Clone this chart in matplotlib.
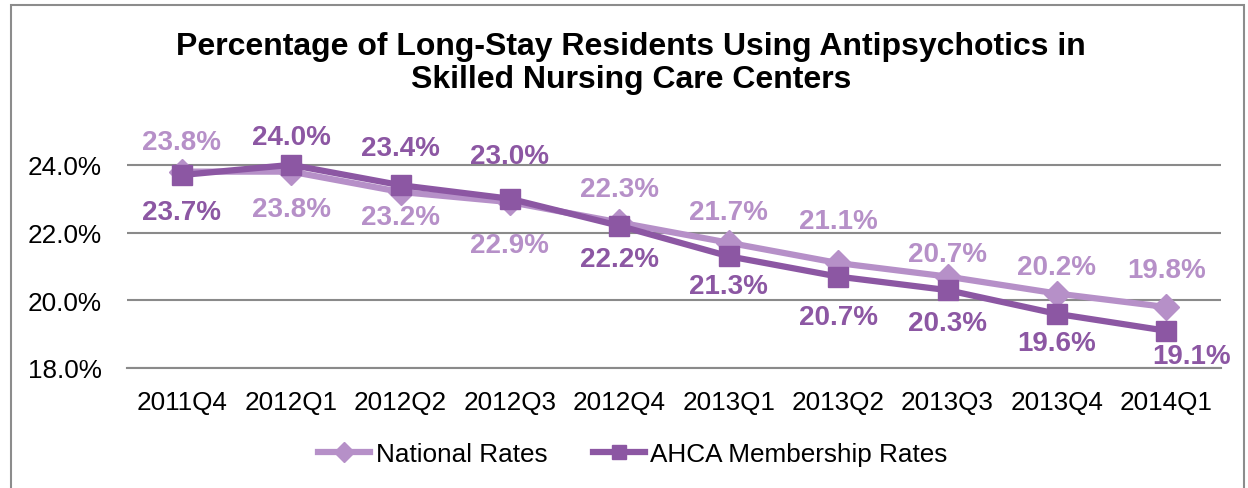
import matplotlib
matplotlib.use("Agg")
import matplotlib.pyplot as plt
from matplotlib.patches import Rectangle

plt.rcParams['font.family'] = ['Liberation Sans', 'DejaVu Sans']

categories = ["2011Q4", "2012Q1", "2012Q2", "2012Q3", "2012Q4",
              "2013Q1", "2013Q2", "2013Q3", "2013Q4", "2014Q1"]
national = [23.8, 23.8, 23.2, 22.9, 22.3, 21.7, 21.1, 20.7, 20.2, 19.8]
ahca = [23.7, 24.0, 23.4, 23.0, 22.2, 21.3, 20.7, 20.3, 19.6, 19.1]
yticks = [18.0, 20.0, 22.0, 24.0]
title_lines = ["Percentage of Long-Stay Residents Using Antipsychotics in",
               "Skilled Nursing Care Centers"]

# data-label offsets in pixels (layout only)
national_offsets = [(0, 30), (0, -37), (0, -25), (0, -43), (0, 33),
                    (0, 31), (0, 42), (0, 23), (0, 27), (0, 37)]
ahca_offsets = [(0, -37), (0, 28), (0, 37), (0, 43), (0, -33),
                (0, -30), (0, -40), (0, -33), (0, -29), (25, -25)]

c_nat = "#B690C8"
c_ahca = "#8C57A3"

W, H = 1248, 489
fig = plt.figure(figsize=(W / 100, H / 100), dpi=100)

# outer border
fig.patches.append(Rectangle((11 / W, -0.05), (1244 - 11) / W, 1.05 - 6 / H,
                             transform=fig.transFigure, fill=False,
                             edgecolor="#8c8c8c", linewidth=1.5))

ax = fig.add_axes([127 / W, 1 - 369 / H, (1221 - 127) / W, (369 - 132) / H])
x = list(range(len(categories)))

ax.plot(x, national, color=c_nat, lw=4.5, marker="D", markersize=13,
        solid_joinstyle="round", label="National Rates", zorder=3, clip_on=False)
ax.plot(x, ahca, color=c_ahca, lw=4.5, marker="s", markersize=14,
        solid_joinstyle="round", label="AHCA Membership Rates", zorder=4, clip_on=False)

def label(xs, ys, offsets, color):
    for xv, yv, (dx, dy) in zip(xs, ys, offsets):
        ax.annotate(f"{yv:.1f}%", (xv, yv), xytext=(dx, dy),
                    textcoords="offset pixels", ha="center", va="center",
                    fontsize=20, fontweight="bold", color=color, zorder=5,
                    annotation_clip=False)

label(x, national, national_offsets, c_nat)
label(x, ahca, ahca_offsets, c_ahca)

ax.set_xlim(-0.5, len(categories) - 0.5)
ax.set_ylim(18, 25)
ax.set_yticks(yticks)
ax.set_yticklabels([f"{v:.1f}%" for v in yticks])
ax.set_xticks(x)
ax.set_xticklabels(categories)
ax.tick_params(axis="both", length=0, labelsize=18.8)
ax.tick_params(axis="y", pad=18)
ax.tick_params(axis="x", pad=16)
ax.grid(axis="y", color="#8a8a8a", linewidth=1.5)
ax.set_axisbelow(True)
for s in ["top", "right", "left"]:
    ax.spines[s].set_visible(False)
ax.spines["bottom"].set_color("#8a8a8a")
ax.spines["bottom"].set_linewidth(1.5)

fig.text(631 / W, 1 - 47 / H, title_lines[0], ha="center", va="center",
         fontsize=23, fontweight="bold")
fig.text(631 / W, 1 - 80 / H, title_lines[1], ha="center", va="center",
         fontsize=23, fontweight="bold")

fig.legend(loc="center", bbox_to_anchor=(633 / W, 1 - 455 / H), ncol=2,
           frameon=False, fontsize=18.8, handlelength=2.0, handletextpad=0.2,
           columnspacing=1.75, markerscale=0.75)

fig.savefig("out.png", dpi=100)
